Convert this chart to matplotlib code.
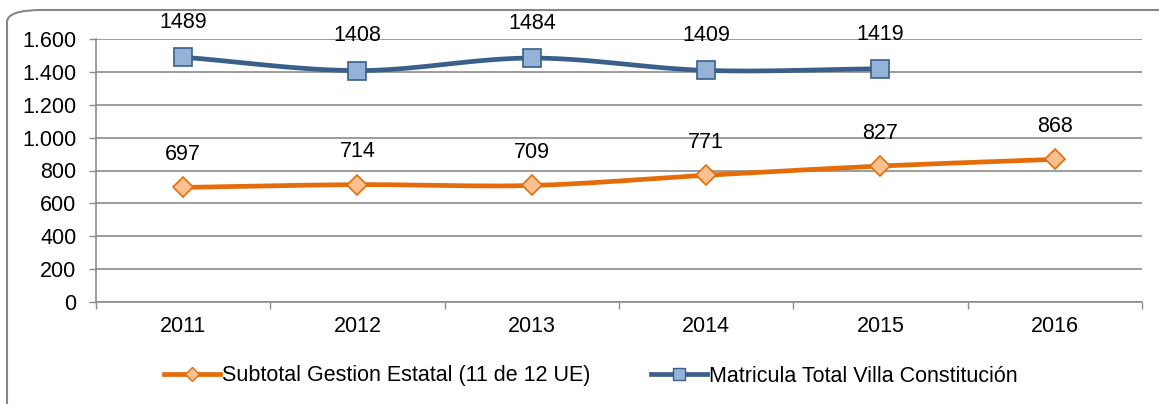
import matplotlib
matplotlib.use("Agg")
import matplotlib.pyplot as plt
import numpy as np
from matplotlib.patches import FancyBboxPatch

# data
years = ["2011", "2012", "2013", "2014", "2015", "2016"]
subtotal_estatal = [697, 714, 709, 771, 827, 868]
matricula_total = [1489, 1408, 1484, 1409, 1419]

orange = "#E46C0A"
orange_fill = "#FAC090"
blue = "#3A5F8B"
blue_fill = "#95B3D7"
grid_gray = "#8C8C8C"
fs = 15.5

plt.rcParams['font.family'] = ['Liberation Sans', 'DejaVu Sans']


def smooth(xs, ys, n=30):
    # Catmull-Rom style smoothing, similar to Excel's smoothed lines
    xs = np.asarray(xs, float)
    ys = np.asarray(ys, float)
    px = np.concatenate([[2 * xs[0] - xs[1]], xs, [2 * xs[-1] - xs[-2]]])
    py = np.concatenate([[2 * ys[0] - ys[1]], ys, [2 * ys[-1] - ys[-2]]])
    out_x, out_y = [], []
    t = np.linspace(0, 1, n)
    h00 = 2 * t**3 - 3 * t**2 + 1
    h10 = t**3 - 2 * t**2 + t
    h01 = -2 * t**3 + 3 * t**2
    h11 = t**3 - t**2
    for i in range(1, len(px) - 2):
        for p, out in ((px, out_x), (py, out_y)):
            m1 = (p[i + 1] - p[i - 1]) / 2
            m2 = (p[i + 2] - p[i]) / 2
            out.extend(h00 * p[i] + h10 * m1 + h01 * p[i + 1] + h11 * m2)
    return np.array(out_x), np.array(out_y)


fig = plt.figure(figsize=(11.59, 4.04), dpi=100)
ax = fig.add_axes([96 / 1159, 1 - 302 / 404, 1046 / 1159, 263 / 404])

# rounded frame around the chart
frame = FancyBboxPatch((7 / 1159, -0.05), 1.1, 1.0 - 10 / 404 + 0.05,
                       boxstyle="round,pad=0,rounding_size=0.03",
                       transform=fig.transFigure, fill=False,
                       edgecolor="#868686", linewidth=1.5, clip_on=False)
fig.patches.append(frame)

x1 = np.arange(len(subtotal_estatal))
x2 = np.arange(len(matricula_total))

sx, sy = smooth(x1, subtotal_estatal)
ax.plot(sx, sy, color=orange, lw=3.4, solid_capstyle="round", zorder=3)
ax.plot(x1, subtotal_estatal, ls="none", marker="D", ms=10, mfc=orange_fill,
        mec=orange, mew=1.2, zorder=4)

sx, sy = smooth(x2, matricula_total)
ax.plot(sx, sy, color=blue, lw=3.4, solid_capstyle="round", zorder=3)
ax.plot(x2, matricula_total, ls="none", marker="s", ms=12.5, mfc=blue_fill,
        mec=blue, mew=1.2, zorder=4)

for xi, v in zip(x1, subtotal_estatal):
    ax.annotate(str(v), (xi, v), xytext=(0, 23.5), textcoords="offset points",
                ha="center", va="center", fontsize=fs, color="black")
for xi, v in zip(x2, matricula_total):
    ax.annotate(str(v), (xi, v), xytext=(0, 25), textcoords="offset points",
                ha="center", va="center", fontsize=fs, color="black",
                annotation_clip=False)

ax.set_xlim(-0.5, len(years) - 0.5)
ax.set_ylim(0, 1600)
ax.set_yticks(np.arange(0, 1601, 200))
ax.set_yticklabels([f"{v:,}".replace(",", ".") for v in range(0, 1601, 200)])
ax.set_xticks(x1)
ax.set_xticklabels(years)
ax.set_xticks(np.arange(-0.5, len(years), 1), minor=True)
ax.tick_params(axis="x", which="major", length=0, pad=10, labelsize=fs)
ax.tick_params(axis="x", which="minor", length=5, color=grid_gray, width=1)
ax.tick_params(axis="y", length=5, color=grid_gray, width=1, pad=9,
               labelsize=fs)

ax.grid(axis="y", color=grid_gray, lw=1.2)
ax.set_axisbelow(True)
for s in ["top", "right"]:
    ax.spines[s].set_visible(False)
ax.spines["left"].set_color(grid_gray)
ax.spines["bottom"].set_color(grid_gray)
ax.spines["left"].set_linewidth(1.2)
ax.spines["bottom"].set_linewidth(1.2)

h1 = plt.Line2D([], [], color=orange, lw=3.4, marker="D", ms=7,
                mfc=orange_fill, mec=orange)
h2 = plt.Line2D([], [], color=blue, lw=3.4, marker="s", ms=9,
                mfc=blue_fill, mec=blue)
fig.legend([h1, h2], ["Subtotal Gestion Estatal (11 de 12 UE)",
                      "Matricula Total Villa Constitución"],
           loc="center", bbox_to_anchor=(0.51, 1 - 376 / 404), ncol=2,
           frameon=False, fontsize=fs, handlelength=2.6, handletextpad=0.1,
           columnspacing=2.8)

fig.savefig("out.png", dpi=100)
